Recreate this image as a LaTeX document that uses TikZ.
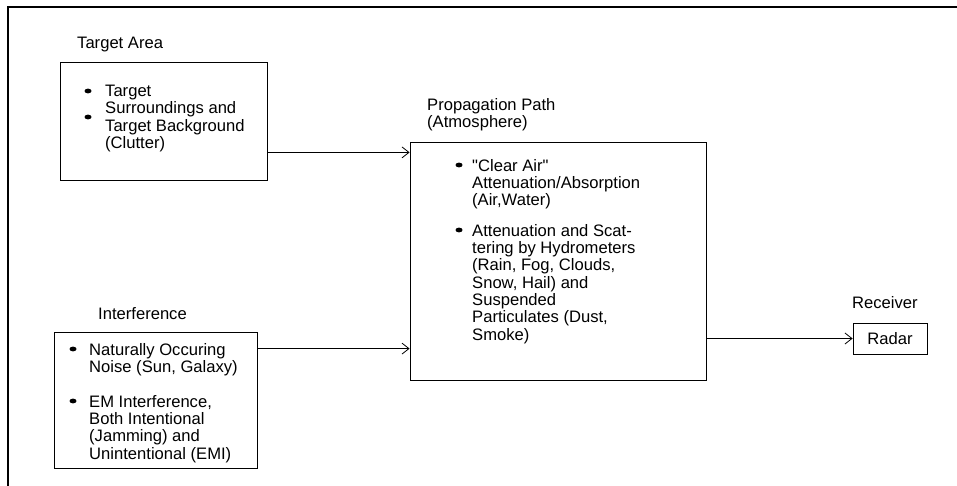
\documentclass[tikz,border=0pt]{standalone}
\usepackage{fontspec}
\setmainfont{Liberation Sans}[Ligatures=TeXOff]
\usetikzlibrary{arrows.meta,shapes}
\tikzset{
    block/.style = {draw, rectangle, line width=0.8pt, inner sep=0pt},
    heading/.style = {inner sep=0pt, align=left},
    body/.style = {inner sep=0pt, align=left, anchor=north west},
    arrow/.style = {draw, line width=0.8pt, -{Straight Barb[length=7pt,width=11pt]}},
    bulletdot/.style = {fill, ellipse, inner sep=0pt, minimum width=7pt, minimum height=4.8pt}
}

\begin{document}
\begin{tikzpicture}[x=1pt, y=-1pt, font=\fontsize{16.6}{17.3}\selectfont]
        \useasboundingbox (0,0) rectangle (957,486);
        % frame
        \draw [line width=2pt] (8,486) -- (8,7) -- (957,7);
        % boxes
        \node [block, minimum width=207pt, minimum height=118pt] (target) at (163.5,121) {};
        \node [block, minimum width=203pt, minimum height=136pt] (interf) at (155.5,400) {};
        \node [block, minimum width=296pt, minimum height=238pt] (prop) at (558,261) {};
        \node [block, minimum width=74pt, minimum height=31pt] (radar) at (890,338.5) {Radar};
        % headings
        \node [heading, anchor=base west] (targethead) at (77,49) {Target Area};
        \node [heading, anchor=base west] (interfhead) at (98,319) {Interference};
        \node [heading, anchor=north west] (prophead) at (427,98) {Propagation Path\\(Atmosphere)};
        \node [heading, anchor=base west] (radarhead) at (852,308) {Receiver};
        % box texts
        \node [body] (targettext) at (105,85) {Target\\Surroundings and\\Target Background\\(Clutter)};
        \node [body] (noise) at (89,343) {Naturally Occuring\\Noise (Sun, Galaxy)};
        \node [body] (emi) at (89,395) {EM Interference,\\Both Intentional\\(Jamming) and\\Unintentional (EMI)};
        \node [body] (clearair) at (472,159) {"Clear Air"\\Attenuation/Absorption\\(Air,Water)};
        \node [body] (hydro) at (472,224) {Attenuation and Scat-\\tering by Hydrometers\\(Rain, Fog, Clouds,\\Snow, Hail) and\\Suspended\\Particulates (Dust,\\Smoke)};
        % bullets
        \foreach \bx/\by in {88/91, 88/117, 73/349, 73/401, 459/165, 459/230}
            \node [bulletdot] at (\bx,\by) {};
        % connectors
        \coordinate (targetout) at ([yshift=28pt]target.south east);
        \coordinate (interfout) at ([yshift=-17pt]interf.north east);
        \draw [arrow] (targetout) -- (targetout -| prop.west);
        \draw [arrow] (interfout) -- (interfout -| prop.west);
        \draw [arrow] (radar.west -| prop.east) -- (radar.west);
\end{tikzpicture}
\end{document}
